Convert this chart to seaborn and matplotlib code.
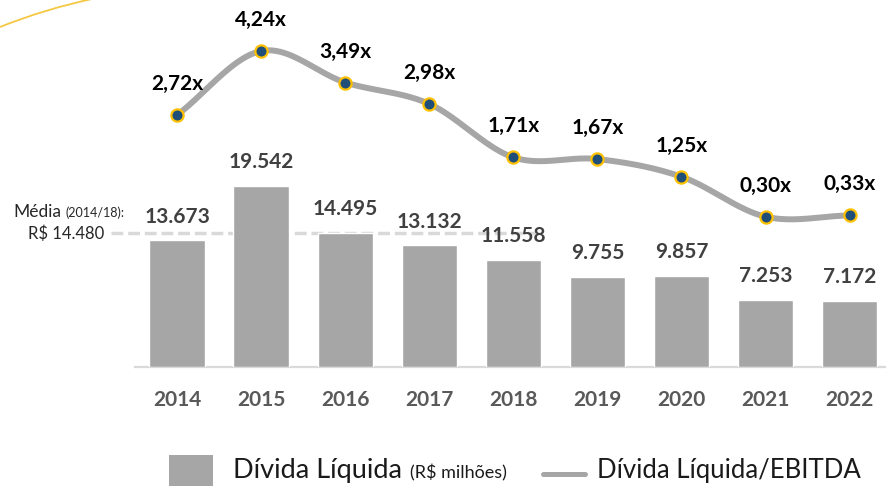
import numpy as np
import pandas as pd
import matplotlib
matplotlib.use("Agg")
import matplotlib.pyplot as plt
import seaborn as sns
from matplotlib.patches import Rectangle, PathPatch
from matplotlib.path import Path
from matplotlib.lines import Line2D

# ---- data -------------------------------------------------------------
anos = ["2014", "2015", "2016", "2017", "2018", "2019", "2020", "2021", "2022"]
divida_liquida = [13673, 19542, 14495, 13132, 11558, 9755, 9857, 7253, 7172]   # R$ milhões
divida_ebitda = [2.72, 4.24, 3.49, 2.98, 1.71, 1.67, 1.25, 0.30, 0.33]           # x
media_2014_18 = 14480

# ---- style ------------------------------------------------------------
BAR = "#a6a6a6"
LINE = "#a6a6a6"
MARK_FACE = "#1f4e79"
MARK_EDGE = "#ffc000"
AXIS = "#d9d9d9"

sns.set_theme(style="white")
plt.rcParams["font.family"] = ["Lato", "DejaVu Sans"]

W, H = 886, 486
fig = plt.figure(figsize=(W / 100, H / 100), dpi=100)

# plot area geometry (pixels)
x0_px, step_px = 177.3, 84.03          # first category centre / spacing
base_px = 367.3                        # bar baseline (from top)
bar_scale = 0.00929                    # px per R$ milhão
ratio_zero_px, ratio_scale = 229.3, 42.06  # secondary axis zero (from top) / px per unit

left_px = x0_px - 0.5 * step_px
ax = fig.add_axes([left_px / W, (H - base_px) / H, (W - left_px) / W, base_px / H])

df = pd.DataFrame({"ano": anos, "divida": divida_liquida, "ratio": divida_ebitda})
sns.barplot(data=df, x="ano", y="divida", color=BAR, saturation=1, width=0.663,
            ax=ax, zorder=3)

ax.set_xlim(-0.5, -0.5 + (W - left_px) / step_px)
ax.set_ylim(0, base_px / bar_scale)
ax.set_xlabel("")
ax.set_ylabel("")
ax.set_yticks([])
for s in ["top", "right", "left"]:
    ax.spines[s].set_visible(False)
ax.spines["bottom"].set_color(AXIS)
ax.spines["bottom"].set_linewidth(1.6)
ax.tick_params(axis="x", length=0, pad=16, labelsize=15, labelcolor="#595959")
for t in ax.get_xticklabels():
    t.set_fontweight("bold")

# bar value labels
for i, v in enumerate(divida_liquida):
    ax.annotate(f"{v:,}".replace(",", "."), xy=(i, v), xytext=(0, 17.5),
                textcoords="offset pixels", ha="center", va="baseline",
                fontsize=15, fontweight="bold", color="#404040", zorder=5)

# average 2014-2018 reference line
ax.hlines(media_2014_18, -0.789, 4.29, colors="#d9d9d9", linewidth=2.5,
          linestyles=(0, (3.4, 1.4)), zorder=1, clip_on=False)
ax.annotate("R$ 14.480", xy=(104, media_2014_18), xycoords=("figure pixels", "data"),
            xytext=(0, -6), textcoords="offset pixels", ha="right", va="baseline",
            fontsize=12, color="#262626")
ax.annotate("Média", xy=(13, media_2014_18), xycoords=("figure pixels", "data"),
            xytext=(0, 16), textcoords="offset pixels", ha="left", va="baseline",
            fontsize=12.5, color="#262626")
ax.annotate("(2014/18):", xy=(66, media_2014_18), xycoords=("figure pixels", "data"),
            xytext=(0, 16), textcoords="offset pixels", ha="left", va="baseline",
            fontsize=9, color="#262626")

# ---- secondary axis: Dívida Líquida / EBITDA ---------------------------
ax2 = ax.twinx()
ax2.set_ylim(-(base_px - ratio_zero_px) / ratio_scale, ratio_zero_px / ratio_scale)
ax2.set_yticks([])
for s in ax2.spines.values():
    s.set_visible(False)

# smoothed curve (Catmull-Rom in screen proportions)
xs = np.arange(len(divida_ebitda)) * step_px
ys = np.asarray(divida_ebitda) * ratio_scale
P = np.column_stack([xs, ys])
P = np.vstack([2 * P[0] - P[1], P, 2 * P[-1] - P[-2]])
t = np.linspace(0, 1, 40)[:, None]
segs = []
for k in range(1, len(P) - 2):
    p0, p1, p2, p3 = P[k - 1], P[k], P[k + 1], P[k + 2]
    seg = 0.5 * (2 * p1 + (-p0 + p2) * t + (2 * p0 - 5 * p1 + 4 * p2 - p3) * t ** 2
                 + (-p0 + 3 * p1 - 3 * p2 + p3) * t ** 3)
    segs.append(seg if k == 1 else seg[1:])
curve = np.vstack(segs)
ax2.plot(curve[:, 0] / step_px, curve[:, 1] / ratio_scale, color=LINE,
         linewidth=4.3, solid_capstyle="butt", zorder=4)
ax2.plot(range(len(divida_ebitda)), divida_ebitda, linestyle="none", marker="o",
         markersize=8.8, markerfacecolor=MARK_FACE, markeredgecolor=MARK_EDGE,
         markeredgewidth=1.6, zorder=5)
for i, v in enumerate(divida_ebitda):
    ax2.annotate(f"{v:.2f}".replace(".", ",") + "x", xy=(i, v), xytext=(0, 25),
                 textcoords="offset pixels", ha="center", va="baseline",
                 fontsize=15, fontweight="bold", color="black", zorder=6)

# ---- decorative arc, top-left -------------------------------------------
arc = Path([(0, 1 - 27 / H), (45 / W, 1 - 9 / H), (92 / W, 1 + 1 / H)],
           [Path.MOVETO, Path.CURVE3, Path.CURVE3])
fig.add_artist(PathPatch(arc, transform=fig.transFigure, fill=False,
                         edgecolor="#f5c842", linewidth=1.3))

# ---- legend ---------------------------------------------------------------
fig.add_artist(Rectangle((169 / W, 0), 44 / W, 31 / H, transform=fig.transFigure,
                         facecolor=BAR, edgecolor="none"))
fig.text(233 / W, (H - 478.3) / H, "Dívida Líquida", ha="left", va="baseline",
         fontsize=19.5, color="#1a1a1a")
fig.text(410 / W, (H - 478.3) / H, "(R$ milhões)", ha="left", va="baseline",
         fontsize=13, color="#1a1a1a")
fig.add_artist(Line2D([543 / W, 585 / W], [12 / H, 12 / H], transform=fig.transFigure,
                      color=LINE, linewidth=3.6))
fig.text(597 / W, (H - 478.3) / H, "Dívida Líquida/EBITDA", ha="left", va="baseline",
         fontsize=18.5, color="#1a1a1a")

fig.savefig("out.png", dpi=100)
